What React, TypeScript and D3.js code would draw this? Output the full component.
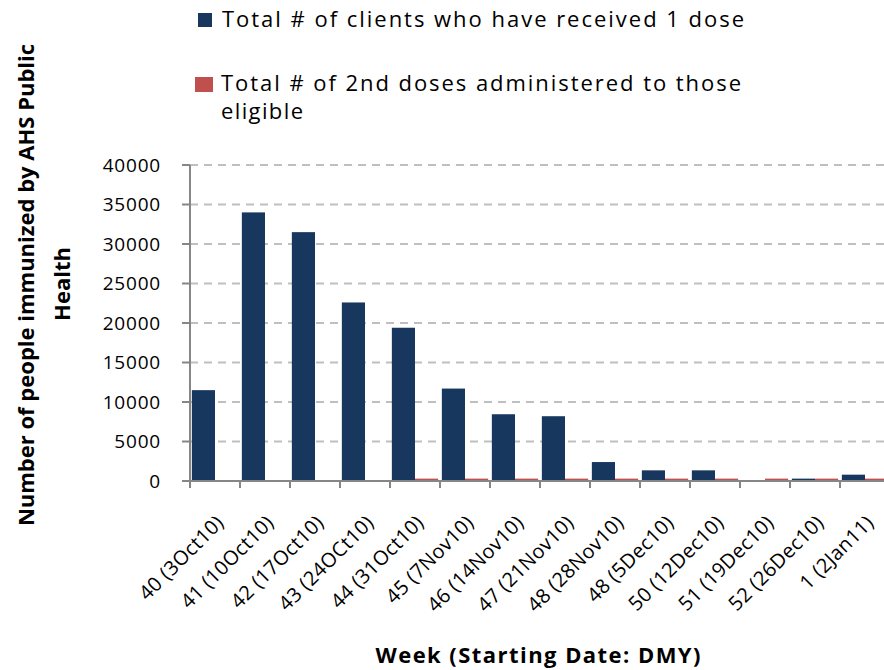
import * as d3 from 'd3';

const weeks = [
  '40 (3Oct10)', '41 (10Oct10)', '42 (17Oct10)', '43 (24OCt10)', '44 (31Oct10)',
  '45 (7Nov10)', '46 (14Nov10)', '47 (21Nov10)', '48 (28Nov10)', '48 (5Dec10)',
  '50 (12Dec10)', '51 (19Dec10)', '52 (26Dec10)', '1 (2Jan11)',
];
const firstDose = [11500, 34000, 31500, 22600, 19400, 11700, 8450, 8200, 2400, 1350, 1350, 0, 300, 800];
const secondDose = [0, 0, 0, 0, 300, 300, 300, 300, 300, 300, 300, 300, 300, 300];
const yTicks = [0, 5000, 10000, 15000, 20000, 25000, 30000, 35000, 40000];

const W = 884, H = 670;
const left = 190, right = 890, top = 165, bottom = 481;
const font = "'Open Sans', sans-serif";
const blue = '#17375e', red = '#c0504d', axisGrey = '#868686';

export default function App() {
  const x = d3.scaleBand<string>().domain(weeks).range([left, right]).padding(0);
  const inner = d3.scaleBand<number>().domain([0, 1]).range([0, x.bandwidth()]).paddingOuter(0.08);
  const y = d3.scaleLinear().domain([0, 40000]).range([bottom, top]);

  return (
    <svg width={W} height={H} style={{ position: 'absolute', left: 0, top: 0, background: '#fff' }} fontFamily={font}>
      {/* legend */}
      <rect x={198} y={13} width={14} height={14} fill={blue} />
      <text x={222} y={27} fontSize={22} textLength={522} lengthAdjust="spacing">Total # of clients who have received 1 dose</text>
      <rect x={195} y={77} width={18} height={15} fill={red} />
      <text x={221} y={91} fontSize={22} textLength={520} lengthAdjust="spacing">Total # of 2nd doses administered to those</text>
      <text x={221} y={119} fontSize={22} textLength={82} lengthAdjust="spacing">eligible</text>

      {/* gridlines */}
      {yTicks.filter(t => t > 0).map(t => (
        <line key={t} x1={left} x2={right} y1={y(t)} y2={y(t)} stroke="#bfbfbf" strokeWidth={2} strokeDasharray="8,6" />
      ))}

      {/* bars */}
      {weeks.map((w, i) => (
        <g key={w}>
          <rect x={x(w)! + inner(0)!} y={y(firstDose[i])} width={inner.bandwidth()} height={bottom - y(firstDose[i])} fill={blue} />
          <rect x={x(w)! + inner(1)!} y={y(secondDose[i])} width={inner.bandwidth()} height={bottom - y(secondDose[i])} fill={red} />
        </g>
      ))}

      {/* y axis */}
      <line x1={left} x2={left} y1={top} y2={bottom} stroke={axisGrey} strokeWidth={2} />
      {yTicks.map(t => (
        <g key={t}>
          <line x1={left - 8} x2={left} y1={y(t)} y2={y(t)} stroke={axisGrey} strokeWidth={2} />
          <text x={161} y={y(t)} dy="0.35em" textAnchor="end" fontSize={19} letterSpacing={0.8}>{t}</text>
        </g>
      ))}

      {/* x axis */}
      <line x1={left} x2={right} y1={bottom} y2={bottom} stroke={axisGrey} strokeWidth={2} />
      {weeks.map(w => (
        <line key={w} x1={x(w)!} x2={x(w)!} y1={bottom} y2={bottom + 7} stroke={axisGrey} strokeWidth={2} />
      ))}
      {weeks.map(w => {
        const cx = x(w)! + x.bandwidth() / 2;
        return (
          <text key={w} transform={`translate(${cx},${bottom + 33}) rotate(-45)`} textAnchor="end" dy="0.7em" fontSize={20} letterSpacing={0.3}>{w}</text>
        );
      })}

      {/* axis titles */}
      <text transform="translate(34,285) rotate(-90)" textAnchor="middle" fontSize={22} fontWeight="bold">Number of people immunized by AHS Public</text>
      <text transform="translate(70,284) rotate(-90)" textAnchor="middle" fontSize={22} fontWeight="bold">Health</text>
      <text x={538} y={663} textAnchor="middle" fontSize={22} fontWeight="bold" textLength={325} lengthAdjust="spacing">Week (Starting Date: DMY)</text>
    </svg>
  );
}
